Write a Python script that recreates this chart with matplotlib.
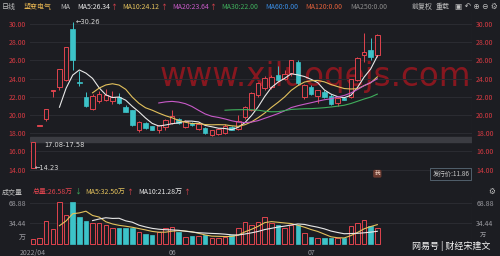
import matplotlib

matplotlib.use("Agg")
import matplotlib.pyplot as plt  # noqa: E402
import numpy as np  # noqa: E402
import pandas as pd  # noqa: E402

plt.rcParams["font.family"] = ["Noto Sans CJK SC", "DejaVu Sans"]

BG = "#1c1d22"
GRID = "#2b2c32"
RED = "#e0444e"
CYAN = "#3cc3c8"
LABEL_RED = "#d63a42"
GRAY = "#9a9aa0"

# daily bars, 2022-04-28 .. 2022-07-15
opens = [14.23, 18.79, 19.6, 22.6, 23.1, 23.9, 29.5, 23.6, 22.0, 20.7,
         21.5, 21.7, 21.5, 22.0, 20.9, 20.5, 18.35, 19.1, 18.75, 18.35,
         18.7, 19.15, 19.6, 18.7, 19.1, 18.5, 18.6, 17.8, 17.9, 18.0,
         18.7, 18.5, 19.8, 20.55, 22.2, 23.0, 23.1, 24.4, 24.0, 24.6,
         25.8, 22.0, 23.1, 22.1, 22.5, 22.1, 21.3, 21.9, 22.0, 23.85,
         26.6, 27.1, 26.6]
highs = [17.08, 18.79, 20.67, 22.74, 25.01, 27.51, 30.26, 24.8, 22.5, 22.3,
         22.6, 22.9, 22.6, 22.4, 21.1, 20.6, 19.3, 19.2, 18.8, 18.9,
         19.6, 20.55, 19.7, 19.4, 19.2, 19.1, 18.7, 18.4, 18.6, 19.0,
         18.8, 20.0, 21.0, 22.5, 23.6, 24.3, 24.4, 25.4, 25.0, 26.1,
         26.0, 23.4, 23.3, 22.8, 22.7, 22.3, 22.0, 21.95, 24.0, 26.4,
         29.0, 28.5, 28.9]
lows = [14.23, 18.79, 19.3, 22.0, 22.8, 23.7, 25.0, 23.2, 20.9, 20.6,
        21.3, 21.5, 21.2, 21.2, 20.3, 18.8, 18.1, 18.5, 18.3, 18.0,
        18.4, 19.0, 19.0, 18.6, 18.8, 18.4, 17.9, 17.7, 17.8, 17.9,
        18.3, 18.4, 19.6, 20.4, 22.0, 22.8, 22.9, 23.7, 23.8, 24.3,
        23.3, 21.8, 22.2, 21.3, 21.9, 21.1, 21.0, 21.6, 21.9, 23.7,
        25.8, 26.0, 26.4]
closes = [17.08, 18.79, 20.67, 22.74, 25.01, 27.51, 26.0, 23.5, 21.0, 22.1,
          22.3, 22.2, 22.0, 21.3, 20.35, 18.9, 19.2, 18.6, 18.35, 18.9,
          19.45, 19.9, 19.1, 19.3, 18.9, 19.0, 18.0, 18.35, 18.5, 18.75,
          18.35, 19.3, 20.9, 22.4, 23.5, 24.1, 24.2, 23.85, 24.5, 26.0,
          23.5, 23.3, 22.3, 22.7, 22.0, 21.2, 21.9, 21.7, 24.0, 26.3,
          26.9, 26.4, 28.8]
# volume, 万手
volumes = [8.4, 10.6, 39.0, 24.7, 71.0, 48.7, 71.0, 45.9, 39.0, 35.0,
           35.0, 32.0, 27.4, 27.4, 27.4, 26.4, 20.7, 16.3, 15.0, 20.7,
           26.4, 29.0, 20.7, 12.3, 14.0, 14.0, 15.0, 10.6, 10.6, 12.3,
           15.0, 26.4, 37.5, 32.0, 37.5, 46.0, 35.0, 32.0, 26.4, 32.0,
           32.0, 18.5, 12.3, 10.6, 9.5, 9.5, 10.6, 10.6, 30.0, 36.0,
           40.0, 30.0, 26.58]

price_ticks = [14, 16, 18, 20, 22, 24, 26, 28, 30]
vol_ticks = [34.44, 68.88]
date_ticks = [0, 21, 42]
date_labels = ["2022/04", "06", "07"]

n = len(closes)
idx = np.arange(n)
o = np.array(opens)
c = np.array(closes)
up = c >= o

close_s = pd.Series(closes)
vol_s = pd.Series(volumes)
ma_cfg = [(5, "#e8e8e8"), (10, "#e3c15c"), (20, "#c85ac8"), (30, "#3fae5c")]


def rect(x0, y0, x1, y1):
    return [x0 / 500, 1 - y1 / 256, (x1 - x0) / 500, (y1 - y0) / 256]


def text_row(y, items, size=5):
    # items: (min_x, text, colour, gap_after); each piece starts after the last
    cur = 0.0
    for min_x, s, col, gap in items:
        x = max(min_x, cur)
        tx = fig.text(x / 500, 1 - y / 256, s, color=col, fontsize=size,
                      va="center")
        fig.canvas.draw()
        cur = tx.get_window_extent().x1 + gap


fig = plt.figure(figsize=(5.0, 2.56), dpi=100, facecolor=BG)

# ---- price panel
ax = fig.add_axes(rect(30, 12, 472, 183))
ax.set_facecolor(BG)
ax.set_xlim(-0.45, 66.3)
ax.set_ylim(12.53, 31.32)

ax.set_yticks(price_ticks)
ax.set_yticklabels([f"{t:.2f}" for t in price_ticks])
ax.tick_params(axis="y", length=0, labelsize=5, colors=LABEL_RED,
               labelleft=True, labelright=True, pad=3)
ax.set_xticks([])
ax.grid(True, axis="y", color=GRID, linewidth=0.7)
for sp in ax.spines.values():
    sp.set_visible(False)
ax.axvline(66.3, color="#34353b", linewidth=0.8)

# gap band 17.08-17.58
ax.axhspan(17.08, 17.58, color="#3b3c42", zorder=1)

ax.text(0.645, 0.625, "www.xiluoqejs.com", transform=ax.transAxes,
        fontsize=23.5, color="#a3161f", alpha=0.8, ha="center", va="center",
        family="DejaVu Sans", zorder=1.5)

w = 0.68
body_lo = np.minimum(o, c)
body_h = np.maximum(np.abs(c - o), 0.07)
ax.vlines(idx, lows, highs, colors=[RED if u else CYAN for u in up],
          linewidth=0.7, zorder=2)
ax.bar(idx[up], body_h[up], w, bottom=body_lo[up], facecolor=BG,
       edgecolor=RED, linewidth=0.7, zorder=3)
ax.bar(idx[~up], body_h[~up], w, bottom=body_lo[~up], facecolor=CYAN,
       edgecolor=CYAN, linewidth=0.5, zorder=3)

for win, col in ma_cfg:
    ax.plot(idx, close_s.rolling(win).mean(), color=col, linewidth=0.8, zorder=4)

ax.text(6.4, 30.26, "←30.26", color="#d8d8d8", fontsize=4.8, va="center",
        family="DejaVu Sans", zorder=5)
ax.text(0.3, 14.23, "←14.23", color="#d8d8d8", fontsize=4.8, va="center",
        family="DejaVu Sans", zorder=5)
ax.text(1.7, 16.75, "17.08-17.58", color="#d8d8d8", fontsize=4.8,
        va="center", family="DejaVu Sans", zorder=5)
ax.text(52.0, 13.55, "我", color="#f0d0c0", fontsize=4, ha="center",
        va="center", zorder=5,
        bbox=dict(boxstyle="round,pad=0.25", fc="#6a3a30", ec="none"))
ax.text(65.9, 13.55, "发行价:11.86", color="#c8c8c8", fontsize=4.6,
        ha="right", va="center", zorder=5,
        bbox=dict(boxstyle="square,pad=0.3", fc=BG, ec="#5a6a78", lw=0.6))

# ---- header
text_row(7, [
    (2, "日线", "#c0c0c0", 8),
    (23, "望变电气", "#e0b050", 8),
    (60, "MA", "#c0c0c0", 5),
    (77, "MA5:26.34", "#e8e8e8", 0.5), (0, "↑", RED, 5),
    (122, "MA10:24.12", "#e3c15c", 0.5), (0, "↑", RED, 5),
    (170, "MA20:23.64", "#c85ac8", 0.5), (0, "↑", RED, 5),
    (218, "MA30:22.00", "#3fae5c", 5),
    (265, "MA60:0.00", "#3a8ee6", 5),
    (305, "MA120:0.00", "#e0603a", 5),
    (350, "MA250:0.00", "#8a8a8a", 5),
    (412, "前复权", "#c0c0c0", 3),
    (435, "重载", "#c0c0c0", 3),
])
fig.text(455 / 500, 1 - 7 / 256, "▣ ↶ ⊕ ⊖ ⚙", color="#c0c0c0", fontsize=5.5,
         va="center", family="DejaVu Sans")

# ---- volume panel
vx = fig.add_axes(rect(30, 197, 472, 246))
vx.set_facecolor(BG)
vx.set_xlim(-0.45, 66.3)
vx.set_ylim(-3.4, 79.0)
vx.set_yticks(vol_ticks)
vx.set_yticklabels([f"{t:.2f}" for t in vol_ticks])
vx.tick_params(axis="y", length=0, labelsize=5, colors=GRAY,
               labelleft=True, labelright=True, pad=3)
vx.grid(True, axis="y", color=GRID, linewidth=0.7)
vx.set_xticks(date_ticks)
vx.set_xticklabels(date_labels)
vx.tick_params(axis="x", length=0, labelsize=5, colors=GRAY, pad=2)
for sp in vx.spines.values():
    sp.set_visible(False)
vx.axvline(66.3, color="#34353b", linewidth=0.8)

v = np.array(volumes)
vx.bar(idx[up], v[up], w, facecolor=BG, edgecolor=RED, linewidth=0.7, zorder=3)
vx.bar(idx[~up], v[~up], w, facecolor=CYAN, edgecolor=CYAN, linewidth=0.5,
       zorder=3)
vx.plot(idx, vol_s.rolling(5).mean(), color="#e3c15c", linewidth=0.8, zorder=4)
vx.plot(idx, vol_s.rolling(10).mean(), color="#e8e8e8", linewidth=0.8, zorder=4)

# unit labels
fig.text(22 / 500, 1 - 238 / 256, "万", color=GRAY, fontsize=5, ha="center",
         va="center")
fig.text(483 / 500, 1 - 235 / 256, "万", color=GRAY, fontsize=4.5, ha="center",
         va="center")

text_row(192, [
    (2, "成交量", "#c0c0c0", 6),
    (33, "总量:26.58万", RED, 0.5), (0, "↓", "#3fae5c", 5),
    (78, "MA5:32.50万", "#e3c15c", 0.5), (0, "↑", RED, 5),
    (124, "MA10:21.28万", "#e8e8e8", 0.5), (0, "↑", RED, 5),
])
fig.text(488 / 500, 1 - 191 / 256, "⚙", color="#c0c0c0", fontsize=5.5,
         va="center", family="DejaVu Sans")

fig.text(490 / 500, 1 - 246 / 256, "网易号 | 财经宋建文", color="#f4f4f4",
         fontsize=6.5, ha="right", va="center")

fig.savefig("out.png", dpi=100, facecolor=BG)
